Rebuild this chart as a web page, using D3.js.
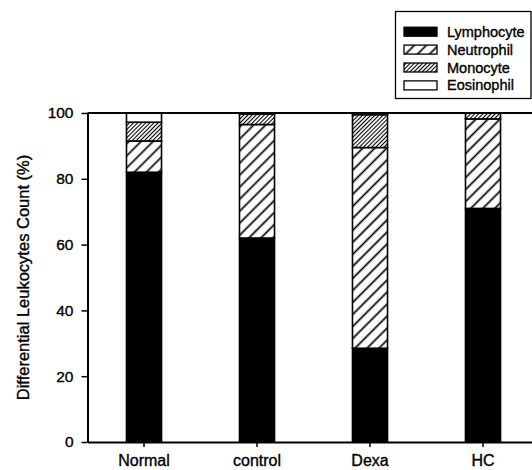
<!DOCTYPE html>
<html>
<head>
<meta charset="utf-8">
<script src="https://cdn.jsdelivr.net/npm/d3@7"></script>
<style>
  body { margin: 0; background: #fff; }
  text { font-family: "Liberation Sans", Arial, sans-serif; fill: #000; stroke: #000; stroke-width: 0.35px; }
</style>
</head>
<body>
<div id="chart"></div>
<script>
// data (percent of leukocytes)
const groups = ["Normal", "control", "Dexa", "HC"];
const cellTypes = ["Lymphocyte", "Neutrophil", "Monocyte", "Eosinophil"];
const lymphocyte = [82, 62, 28.5, 71];
const neutrophil = [9.5, 34.5, 61, 27.2];
const monocyte = [5.7, 3.2, 10, 1.8];
const eosinophil = [2.8, 0.3, 0.5, 0];
const yTicks = [0, 20, 40, 60, 80, 100];

const W = 532, H = 470;
const margin = { top: 113, left: 87.5, bottom: 28 };
const plotBottom = H - margin.bottom;
const font = "Liberation Sans, Arial, sans-serif";

const rows = groups.map(function (g, i) {
    return { group: g, Lymphocyte: lymphocyte[i], Neutrophil: neutrophil[i],
             Monocyte: monocyte[i], Eosinophil: eosinophil[i] };
});

const svg = d3.select("#chart").append("svg")
    .attr("width", W)
    .attr("height", H);

// hatch fills
const defs = svg.append("defs");
function hatch(id, size, sw) {
    const p = defs.append("pattern")
        .attr("id", id)
        .attr("patternUnits", "userSpaceOnUse")
        .attr("width", size)
        .attr("height", size)
        .attr("patternTransform", "rotate(45)");
    p.append("rect").attr("width", size).attr("height", size).attr("fill", "#fff");
    p.append("line")
        .attr("x1", size / 2).attr("y1", 0)
        .attr("x2", size / 2).attr("y2", size)
        .attr("stroke", "#000")
        .attr("stroke-width", sw);
}
hatch("hatchWide", 8.5, 1.7);
hatch("hatchDense", 2.9, 1.1);

const fills = {
    Lymphocyte: "#000",
    Neutrophil: "url(#hatchWide)",
    Monocyte: "url(#hatchDense)",
    Eosinophil: "#fff"
};

const x = d3.scaleBand()
    .domain(groups)
    .range([margin.left, margin.left + 113 * groups.length])
    .paddingInner(0.69)
    .paddingOuter(0.345);

const y = d3.scaleLinear()
    .domain([0, 100])
    .range([plotBottom, margin.top]);

const stacked = d3.stack().keys(cellTypes)(rows);

// stacked bars
svg.append("g")
    .selectAll("g")
    .data(stacked)
    .enter().append("g")
        .attr("fill", function (d) { return fills[d.key]; })
    .selectAll("rect")
    .data(function (d) { return d; })
    .enter().append("rect")
        .attr("x", function (d) { return x(d.data.group); })
        .attr("y", function (d) { return y(d[1]); })
        .attr("width", x.bandwidth())
        .attr("height", function (d) { return y(d[0]) - y(d[1]); })
        .attr("stroke", "#000")
        .attr("stroke-width", 1.6);

// top frame line
svg.append("line")
    .attr("x1", margin.left).attr("x2", W)
    .attr("y1", y(100)).attr("y2", y(100))
    .attr("stroke", "#000")
    .attr("stroke-width", 2);

// y axis
const yAxis = svg.append("g")
    .attr("transform", "translate(" + margin.left + ",0)")
    .call(d3.axisLeft(y).tickValues(yTicks).tickSize(6).tickSizeOuter(0).tickPadding(8));
yAxis.selectAll("text")
    .attr("font-size", 15.5)
    .style("font-family", font);

// x axis
const xAxis = svg.append("g")
    .attr("transform", "translate(0," + plotBottom + ")")
    .call(d3.axisBottom(x).tickSize(5).tickSizeOuter(0).tickPadding(8));
xAxis.selectAll("text")
    .attr("font-size", 16)
    .style("font-family", font);

svg.selectAll(".domain").attr("stroke-width", 2);
svg.selectAll(".tick line").attr("stroke-width", 1.5);

// y axis title
svg.append("text")
    .attr("transform", "translate(25," + (margin.top + plotBottom) / 2 + ") rotate(-90)")
    .attr("text-anchor", "middle")
    .attr("dominant-baseline", "middle")
    .attr("font-size", 16.5)
    .text("Differential Leukocytes Count (%)");

// legend
const legend = svg.append("g");
legend.append("rect")
    .attr("x", 395.5).attr("y", 11.5)
    .attr("width", 135.5).attr("height", 87)
    .attr("fill", "#fff")
    .attr("stroke", "#000")
    .attr("stroke-width", 1.3);

const item = legend.selectAll(".item")
    .data(cellTypes)
    .enter().append("g")
        .attr("class", "item")
        .attr("transform", function (d, i) { return "translate(404," + (31.7 + i * 17.9) + ")"; });

item.append("rect")
    .attr("x", 0).attr("y", -4.5)
    .attr("width", 33).attr("height", 9)
    .attr("fill", function (d) { return fills[d]; })
    .attr("stroke", "#000")
    .attr("stroke-width", 1.3);

item.append("text")
    .attr("x", 43)
    .attr("dy", "0.35em")
    .attr("font-size", 14.5)
    .text(function (d) { return d; });
</script>
</body>
</html>
